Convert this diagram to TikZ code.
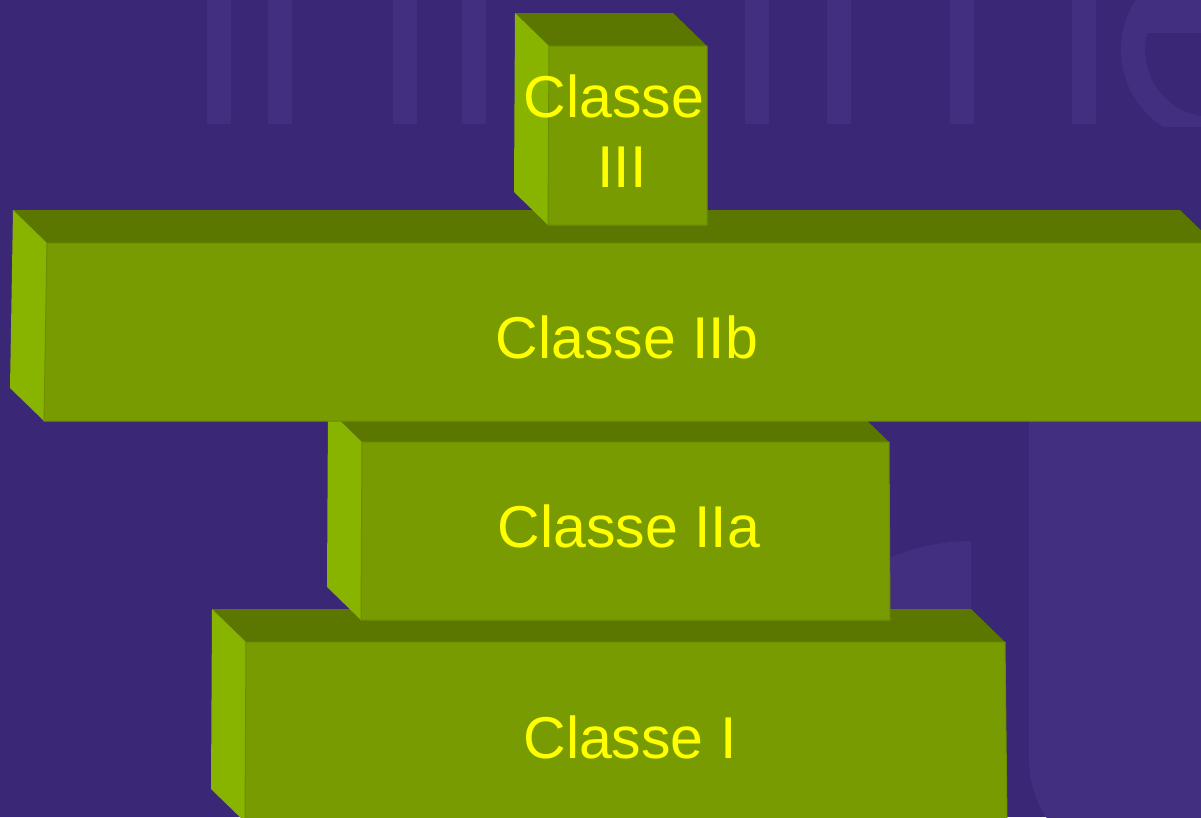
\documentclass[tikz,border=0pt]{standalone}
\usepackage{fontspec}
\setmainfont{Liberation Sans}
\definecolor{bg}{RGB}{58,39,118}
\definecolor{wm}{RGB}{66,47,128}
\definecolor{frontc}{RGB}{119,155,0}
\definecolor{topc}{RGB}{92,119,0}
\definecolor{sidec}{RGB}{136,180,0}
\definecolor{edgec}{RGB}{108,142,0}
\definecolor{labelc}{RGB}{255,255,0}
\tikzset{
  front/.style={fill=frontc, draw=edgec, line width=1pt},
  topface/.style={fill=topc},
  sideface/.style={fill=sidec},
  boxtext/.style={text=labelc, font=\fontsize{59}{68}\selectfont, anchor=base, inner sep=0pt},
  ghost/.style={fill=wm},
}
% one block: front face corners TL, TR, BR, BL; depth goes up and to the left
\newcommand{\slab}[8]{%
  \fill[topface] (#1,#2) -- (#1-34,#2-33) -- (#3-34,#4-33) -- (#3,#4) -- cycle;
  \fill[sideface] (#1,#2) -- (#1-34,#2-33) -- (#7-34,#8-33) -- (#7,#8) -- cycle;
  \filldraw[front] (#1,#2) -- (#3,#4) -- (#5,#6) -- (#7,#8) -- cycle;
}
\begin{document}
\begin{tikzpicture}[x=1pt,y=-1pt]
\useasboundingbox (0,0) rectangle (1201,817);
\fill[bg] (0,0) rectangle (1201,817);

% faint lettering behind the blocks
\begin{scope}
  \clip (0,-5) rectangle (1201,126);
  \foreach \x in {207,268,393,462,745,827,950,1072}
    \fill[ghost] (\x,-5) rectangle (\x+24,124);
  \fill[ghost,even odd rule] (1212,50) circle (91) (1212,50) circle (67);
  \begin{scope}
    \clip (1212,50) circle (91);
    \fill[ghost] (1100,-10) rectangle (1210,33);
  \end{scope}
\end{scope}
\fill[ghost] (1029,400) -- (1029,755) .. controls (1029,790) and (1040,810) .. (1052,825)
  -- (1210,825) -- (1210,400) -- cycle;
\fill[ghost] (880,609) -- (880,562) .. controls (910,548) and (940,541) .. (971,541)
  -- (971,609) -- cycle;

% blocks, from the bottom of the stack upwards
\slab{246}{642}{1005}{642}{1007}{822}{245}{822}
\slab{362}{442}{889}{442}{890}{620}{361}{620}
\slab{47}{243}{1214}{243}{1216}{421}{44}{421}
\slab{549}{46}{707}{46}{707}{225}{548}{225}

% labels
\node[boxtext] (c3a) at (614,117) {Classe};
\node[boxtext] (c3b) at (622,187) {III};
\node[boxtext] (c2b) at (627,358) {Classe IIb};
\node[boxtext] (c2a) at (629,547) {Classe IIa};
\node[boxtext] (c1) at (630,758) {Classe I};
\end{tikzpicture}
\end{document}
